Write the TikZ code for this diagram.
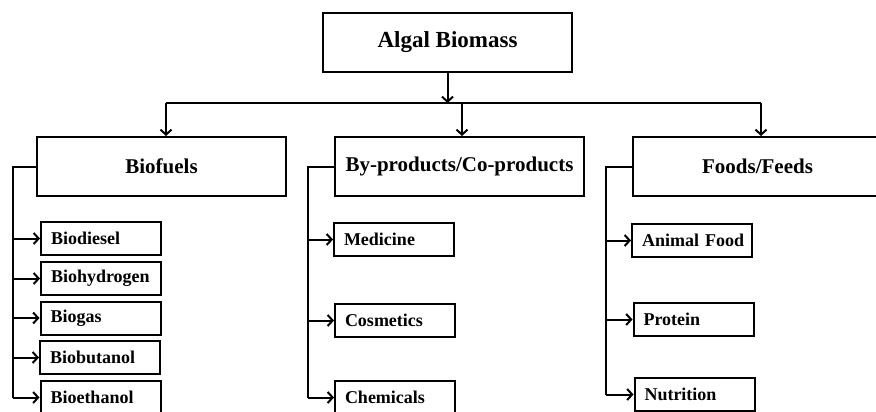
\documentclass[tikz,border=0pt]{standalone}
\usepackage{fontspec}
\setmainfont{Liberation Serif}
\usetikzlibrary{arrows.meta}
\begin{document}
\begin{tikzpicture}[x=1pt,y=-1pt,
  every node/.style={font=\bfseries},
  conn/.style={line width=2pt},
  arr/.style={conn,-{Straight Barb[length=5pt,width=11pt,line width=2pt]}},
  bigbox/.style={draw,line width=2pt,minimum width=249pt,minimum height=59pt,inner sep=0pt,align=center},
  title/.style={bigbox,font=\fontsize{23}{25}\selectfont\bfseries},
  cat/.style={bigbox,font=\fontsize{21}{23}\selectfont\bfseries},
  child/.style={draw,line width=2pt,text width=114pt,inner xsep=3pt,inner ysep=0pt,minimum height=33pt,align=left,
    execute at begin node={\hspace*{7pt}},font=\fontsize{18}{20}\selectfont\bfseries}]
\useasboundingbox (0,0) rectangle (876,412);
\clip (0,0) rectangle (876,412);
% top
\node[title] (top) at (447.5,42.5) {Algal Biomass};
\node[cat] (bf) at (161.5,166.5) {Biofuels};
\node[cat] (bp) at (459.5,166.5) {By-products/Co-products};
\node[cat] (ff) at (757.5,166.5) {Foods/Feeds};
\coordinate (hl) at (166,103);
\coordinate (hr) at (761,103);
\coordinate (hm) at (462,103);
\draw[arr] (top.south) -- (top.south |- hl);
\draw[conn] (hl) -- (hr);
\draw[arr] (hl) -- (hl |- bf.north);
\draw[arr] (hm) -- (hm |- bp.north);
\draw[arr] (hr) -- (hr |- ff.north);
% biofuels children
\node[child] (c1) at (101,238.5) {Biodiesel};
\node[child] (c2) at (101,278.5) {Biohydrogen};
\node[child] (c3) at (100.5,318) {Biogas};
\node[child] (c4) at (100,357.5) {Biobutanol};
\node[child] (c5) at (100.5,397.5) {Bioethanol};
\coordinate (v1) at (13,166.5);
\draw[conn] (bf.west) -- (v1) -- (v1 |- c5.west);
\foreach \c in {c1,c2,c3,c4}{\draw[arr] (v1 |- \c.west) -- (\c.west);}
\draw[arr] (v1 |- c5.west) -- (c5.west);
% by-products children
\node[child] (d1) at (394,239.5) {Medicine};
\node[child] (d2) at (395,320.5) {Cosmetics};
\node[child] (d3) at (395,397.5) {Chemicals};
\coordinate (v2) at (308,166.5);
\draw[conn] (bp.west) -- (v2) -- (v2 |- d3.west);
\foreach \c in {d1,d2,d3}{\draw[arr] (v2 |- \c.west) -- (\c.west);}
% foods children
\node[child] (e1) at (692,240.5) {Animal Food};
\node[child] (e2) at (693.5,319.5) {Protein};
\node[child] (e3) at (694.5,394.5) {Nutrition};
\coordinate (v3) at (606,166.5);
\draw[conn] (ff.west) -- (v3) -- (v3 |- e3.west);
\foreach \c in {e1,e2,e3}{\draw[arr] (v3 |- \c.west) -- (\c.west);}
\end{tikzpicture}
\end{document}
